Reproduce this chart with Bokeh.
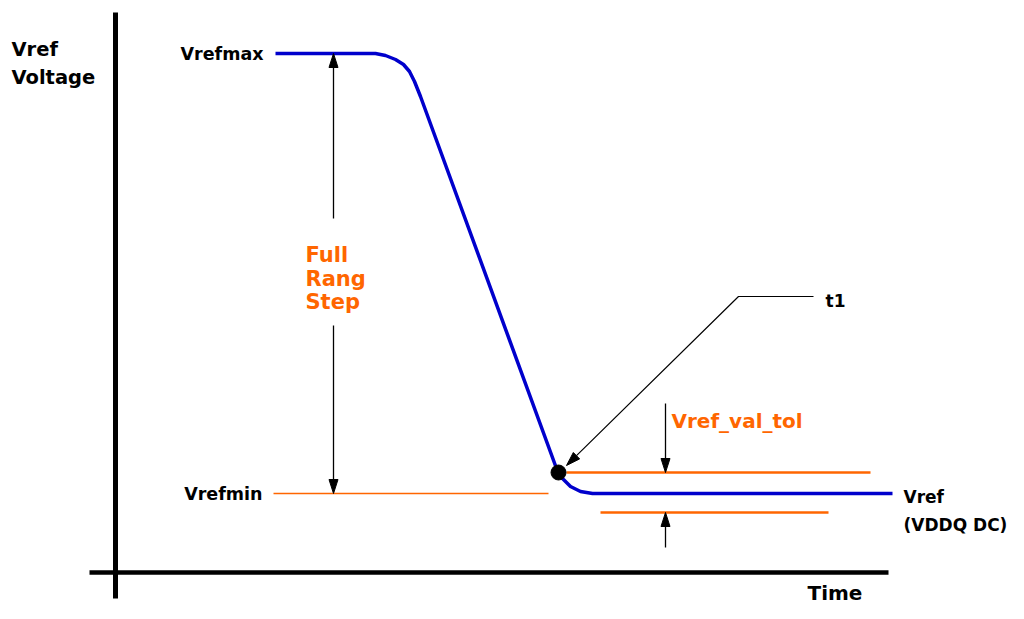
from bokeh.plotting import figure
from bokeh.models import Range1d
from bokeh.core.properties import value
from bokeh.embed import file_html
from bokeh.resources import INLINE

# ---- data (diagram coordinates: x = time units, y = voltage drawn top-down) ----
curve_x = [275, 375, 385, 395, 403, 409, 414, 420, 556, 562, 570, 580, 592, 892]
curve_y = [53, 53, 55, 59, 64, 71, 81, 96, 468, 478, 486, 491, 493, 493]

vrefmax_level = 53
vrefmin_level = 493
tol_hi_level = 472
tol_lo_level = 512
t1_point = (558, 472)

axis_x = 115
axis_y = 572

labels_black = ["Vref", "Voltage", "Vrefmax", "Vrefmin", "t1", "Vref", "(VDDQ DC)", "Time"]
labels_orange = ["Full", "Rang", "Step", "Vref_val_tol"]

BLUE = "#0000CC"
ORANGE = "#FF6600"
FONT = value("DejaVu Sans")

p = figure(width=1008, height=603, output_backend="svg", toolbar_location=None,
           x_range=Range1d(0, 1008), y_range=Range1d(603, 0), min_border=0)
p.axis.visible = False
p.grid.visible = False
p.outline_line_color = None
p.background_fill_color = "white"

# axes of the diagram
p.line([axis_x, axis_x], [12, 598], line_color="black", line_width=5)
p.line([89, 888], [axis_y, axis_y], line_color="black", line_width=4.5)

# reference levels
p.line([273, 548], [vrefmin_level, vrefmin_level], line_color=ORANGE, line_width=1.5)
p.line([566, 870], [tol_hi_level, tol_hi_level], line_color=ORANGE, line_width=2.5)
p.line([600, 828], [tol_lo_level, tol_lo_level], line_color=ORANGE, line_width=2.5)

# Vref curve
p.line(curve_x, curve_y, line_color=BLUE, line_width=3.5, line_join="round")

# t1 point
p.scatter([t1_point[0]], [t1_point[1]], size=15, color="black", marker="circle")


def arrow(xs, ys, lw=1.3, head_len=14, head_half=4.5):
    """polyline ending with a filled arrowhead at its last point."""
    x0, y0 = xs[-2], ys[-2]
    x1, y1 = xs[-1], ys[-1]
    dx, dy = x1 - x0, y1 - y0
    L = (dx * dx + dy * dy) ** 0.5
    ux, uy = dx / L, dy / L
    bx, by = x1 - ux * head_len, y1 - uy * head_len
    nx, ny = -uy, ux
    p.line(list(xs[:-1]) + [bx], list(ys[:-1]) + [by], line_color="black", line_width=lw)
    p.patch([x1, bx + nx * head_half, bx - nx * head_half],
            [y1, by + ny * head_half, by - ny * head_half], color="black")


# full range step arrows
arrow([333, 333], [218, vrefmax_level])
arrow([333, 333], [325, vrefmin_level])
# tolerance arrows
arrow([665, 665], [403, tol_hi_level])
arrow([665, 665], [547, tol_lo_level])
# t1 leader
arrow([813, 738, 566], [296, 296, 465], lw=1.2)


def txt(x, y, s, size, color="black", align="left"):
    p.text([x], [y], text=[s], text_font=FONT, text_font_style="bold",
           text_font_size=size, text_color=color, text_align=align,
           text_baseline="middle")


txt(11, 49, labels_black[0], "19.5px")
txt(11, 77, labels_black[1], "19.5px")
txt(263, 53, labels_black[2], "17.5px", align="right")
txt(262, 493, labels_black[3], "17.5px", align="right")
txt(825, 300, labels_black[4], "17px")
txt(903, 496, labels_black[5], "17px")
txt(903, 524, labels_black[6], "17px")
txt(807, 592, labels_black[7], "20px")

txt(305, 254, labels_orange[0], "21px", ORANGE)
txt(305, 278, labels_orange[1], "21px", ORANGE)
txt(305, 301, labels_orange[2], "21px", ORANGE)
txt(671, 420, labels_orange[3], "20px", ORANGE)

open("out.html", "w").write(file_html(p, INLINE))
